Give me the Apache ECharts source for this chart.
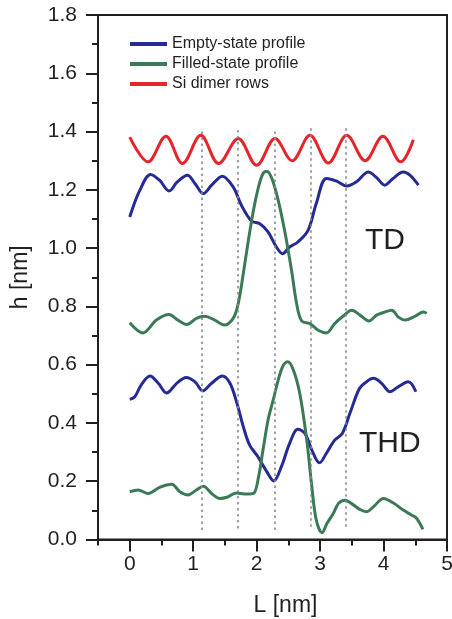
<!DOCTYPE html>
<html>
<head>
<meta charset="utf-8">
<script src="https://cdn.jsdelivr.net/npm/echarts@6/dist/echarts.min.js"></script>
<style>html,body{margin:0;padding:0;background:#fff}#c{width:452px;height:619px}</style>
</head>
<body>
<div id="c"></div>
<script>
// ---- data ----
var seriesNames = ['Empty-state profile', 'Filled-state profile', 'Si dimer rows'];
var xTickValues = [0, 1, 2, 3, 4, 5];
var xMinorTickValues = [-0.5, 0.5, 1.5, 2.5, 3.5, 4.5];

var siL = [0, 0.29, 0.57, 0.83, 1.12, 1.40, 1.71, 2.0, 2.29, 2.56, 2.84, 3.13, 3.42, 3.71, 3.99, 4.27, 4.47];
var siH = [1.381, 1.296, 1.384, 1.29, 1.387, 1.29, 1.376, 1.284, 1.376, 1.30, 1.387, 1.292, 1.387, 1.30, 1.384, 1.296, 1.372];

var emptyTdL = [0, 0.16, 0.33, 0.47, 0.62, 0.75, 0.91, 1.03, 1.16, 1.29, 1.46, 1.63, 1.76, 1.92, 2.05, 2.18, 2.31, 2.41, 2.52, 2.65, 2.81, 2.94, 3.10, 3.26, 3.42, 3.57, 3.76, 3.89, 4.02, 4.15, 4.31, 4.42, 4.55];
var emptyTdH = [1.107, 1.199, 1.253, 1.233, 1.196, 1.227, 1.25, 1.221, 1.187, 1.216, 1.247, 1.21, 1.147, 1.093, 1.084, 1.056, 1.004, 0.981, 1.004, 1.021, 1.061, 1.153, 1.239, 1.23, 1.213, 1.227, 1.261, 1.242, 1.216, 1.239, 1.261, 1.25, 1.216];

var filledTdL = [0, 0.21, 0.42, 0.62, 0.76, 0.90, 1.05, 1.18, 1.34, 1.49, 1.63, 1.71, 1.79, 1.87, 1.95, 2.03, 2.10, 2.16, 2.24, 2.34, 2.44, 2.55, 2.63, 2.71, 2.84, 2.97, 3.10, 3.23, 3.36, 3.50, 3.63, 3.77, 3.89, 4.00, 4.13, 4.23, 4.34, 4.50, 4.63, 4.68];
var filledTdH = [0.744, 0.709, 0.753, 0.772, 0.753, 0.738, 0.759, 0.766, 0.753, 0.736, 0.759, 0.81, 0.913, 1.027, 1.13, 1.21, 1.256, 1.264, 1.239, 1.164, 1.061, 0.924, 0.81, 0.75, 0.741, 0.718, 0.709, 0.741, 0.766, 0.787, 0.77, 0.75, 0.77, 0.779, 0.787, 0.764, 0.753, 0.767, 0.781, 0.776];

var emptyThdL = [0, 0.08, 0.18, 0.32, 0.45, 0.58, 0.74, 0.89, 1.03, 1.15, 1.29, 1.46, 1.58, 1.69, 1.79, 1.89, 2.02, 2.16, 2.27, 2.39, 2.52, 2.65, 2.76, 2.87, 2.99, 3.10, 3.23, 3.35, 3.47, 3.62, 3.73, 3.84, 3.97, 4.10, 4.23, 4.39, 4.51];
var emptyThdH = [0.481, 0.49, 0.53, 0.561, 0.536, 0.503, 0.536, 0.556, 0.541, 0.51, 0.536, 0.561, 0.536, 0.467, 0.387, 0.324, 0.284, 0.233, 0.201, 0.25, 0.33, 0.378, 0.364, 0.307, 0.263, 0.296, 0.341, 0.364, 0.433, 0.518, 0.541, 0.553, 0.536, 0.507, 0.524, 0.541, 0.507];

var filledThdL = [0, 0.13, 0.29, 0.47, 0.66, 0.79, 0.92, 1.05, 1.16, 1.29, 1.42, 1.53, 1.68, 1.84, 1.95, 2.03, 2.10, 2.18, 2.26, 2.34, 2.42, 2.49, 2.58, 2.68, 2.79, 2.87, 2.94, 3.03, 3.11, 3.21, 3.29, 3.39, 3.53, 3.62, 3.73, 3.84, 4.00, 4.15, 4.31, 4.44, 4.52, 4.62];
var filledThdH = [0.164, 0.17, 0.158, 0.179, 0.19, 0.164, 0.153, 0.17, 0.183, 0.158, 0.141, 0.145, 0.16, 0.156, 0.158, 0.215, 0.307, 0.41, 0.478, 0.547, 0.598, 0.61, 0.581, 0.501, 0.341, 0.181, 0.067, 0.023, 0.056, 0.09, 0.124, 0.135, 0.118, 0.104, 0.095, 0.112, 0.141, 0.126, 0.101, 0.084, 0.073, 0.035];

var dividerL = [1.14, 1.70, 2.29, 2.855, 3.40];
var dividerTop = [1.412, 1.416, 1.412, 1.421, 1.421];
var dividerBottom = [0.033, 0.038, 0.033, 0.044, 0.044];

var panelLabels = ['TD', 'THD'];

// ---- chart ----
function pairs(xs, ys) { return xs.map(function (x, i) { return [x, ys[i]]; }); }

var BLUE = '#252a94', GREEN = '#3b7a56', RED = '#e4262c', INK = '#231f20';
var FONT = 'Liberation Sans';

var chart = echarts.init(document.getElementById('c'), null, { renderer: 'canvas' });

function lineSeries(name, xs, ys, color, extra) {
  var s = {
    name: name, type: 'line', data: pairs(xs, ys), symbol: 'none', smooth: 0.35,
    lineStyle: { color: color, width: 3 }, itemStyle: { color: color }, z: 3, animation: false
  };
  if (extra) for (var k in extra) s[k] = extra[k];
  return s;
}

var markLineData = dividerL.map(function (x, i) {
  return [{ coord: [x, dividerBottom[i]] }, { coord: [x, dividerTop[i]] }];
});

var option = {
  animation: false,
  grid: { left: 98, right: 5, top: 15, bottom: 79.5, show: true, borderColor: INK, borderWidth: 2,
    containLabel: false, outerBoundsMode: 'none' },
  legend: {
    data: seriesNames.map(function (n) { return { name: n, icon: 'rect' }; }),
    orient: 'vertical', left: 125, top: 29, itemWidth: 37, itemHeight: 4, itemGap: 0,
    textStyle: { fontFamily: FONT, fontSize: 16, color: INK, lineHeight: 20 }
  },
  xAxis: [{
    type: 'value', min: -0.5, max: 5, position: 'bottom',
    name: 'L [nm]', nameLocation: 'middle', nameGap: 55,
    nameTextStyle: { fontFamily: FONT, fontSize: 23, color: INK, padding: [0, 0, 0, 26] },
    axisLine: { show: true, onZero: false, lineStyle: { color: INK, width: 2 } },
    axisTick: { show: true, inside: false, length: 12, lineStyle: { color: INK, width: 2 }, customValues: xTickValues },
    axisLabel: { show: true, margin: 14, fontFamily: FONT, fontSize: 21, color: INK, customValues: xTickValues,
      formatter: function (v) { return String(v); } },
    splitLine: { show: false }, minorTick: { show: false }
  }, {
    type: 'value', min: -0.5, max: 5, position: 'bottom',
    axisLine: { show: false, onZero: false },
    axisTick: { show: true, inside: false, length: 6, lineStyle: { color: INK, width: 2 }, customValues: xMinorTickValues },
    axisLabel: { show: false }, splitLine: { show: false }
  }],
  yAxis: {
    type: 'value', min: 0, max: 1.8, interval: 0.2, position: 'left',
    name: 'h [nm]', nameLocation: 'middle', nameGap: 66,
    nameTextStyle: { fontFamily: FONT, fontSize: 23, color: INK },
    axisLine: { show: true, onZero: false, lineStyle: { color: INK, width: 2 } },
    axisTick: { show: true, inside: false, length: 12, lineStyle: { color: INK, width: 2 } },
    minorTick: { show: true, splitNumber: 2, length: 6, lineStyle: { color: INK, width: 2 } },
    axisLabel: { margin: 21, fontFamily: FONT, fontSize: 21, color: INK,
      formatter: function (v) { return v.toFixed(1); } },
    splitLine: { show: false }
  },
  graphic: [
    { type: 'text', left: 365, top: 226, style: { text: panelLabels[0], font: '30px "Liberation Sans"', fill: INK } },
    { type: 'text', left: 359, top: 429, style: { text: panelLabels[1], font: '30px "Liberation Sans"', fill: INK } }
  ],
  series: [
    lineSeries(seriesNames[2], siL, siH, RED),
    lineSeries(seriesNames[0], emptyTdL, emptyTdH, BLUE, {
      markLine: {
        silent: true, symbol: 'none', label: { show: false }, animation: false,
        lineStyle: { color: '#8a8a8a', width: 1.6, type: [2.5, 3.5] },
        data: markLineData
      }
    }),
    lineSeries(seriesNames[1], filledTdL, filledTdH, GREEN),
    lineSeries(seriesNames[0], emptyThdL, emptyThdH, BLUE),
    lineSeries(seriesNames[1], filledThdL, filledThdH, GREEN)
  ]
};
chart.setOption(option);
</script>
</body>
</html>
